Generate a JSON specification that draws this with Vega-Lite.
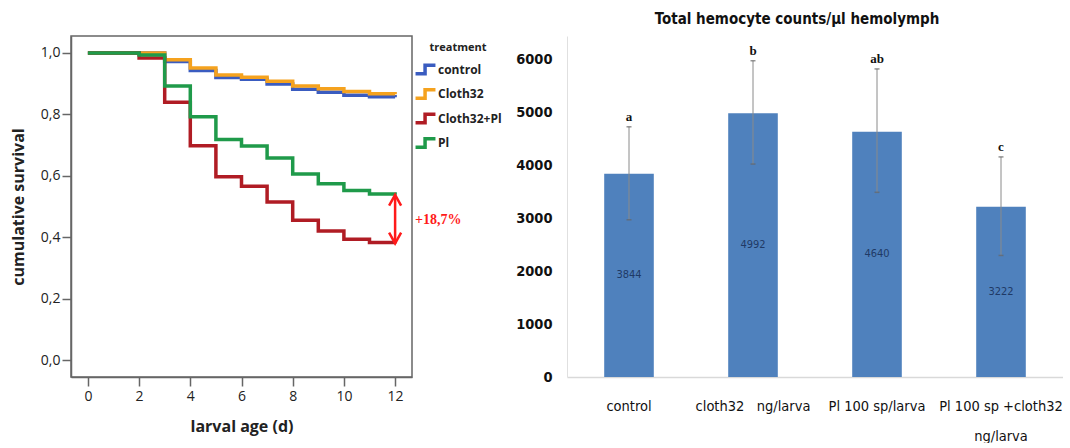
{
  "$schema": "https://vega.github.io/schema/vega-lite/v6.json",
  "padding": {"left": 9, "top": 12, "right": 0, "bottom": 0},
  "background": "white",
  "bounds": "flush",
  "spacing": 155,
  "config": {"view": {"stroke": null}},
  "datasets": {
    "survival": [
      {"day": 0, "surv": 1.0, "treatment": "control"},
      {"day": 1, "surv": 1.0, "treatment": "control"},
      {"day": 2, "surv": 1.0, "treatment": "control"},
      {"day": 3, "surv": 0.972, "treatment": "control"},
      {"day": 4, "surv": 0.943, "treatment": "control"},
      {"day": 5, "surv": 0.92, "treatment": "control"},
      {"day": 6, "surv": 0.914, "treatment": "control"},
      {"day": 7, "surv": 0.899, "treatment": "control"},
      {"day": 8, "surv": 0.882, "treatment": "control"},
      {"day": 9, "surv": 0.872, "treatment": "control"},
      {"day": 10, "surv": 0.862, "treatment": "control"},
      {"day": 11, "surv": 0.857, "treatment": "control"},
      {"day": 12, "surv": 0.856, "treatment": "control"},
      {"day": 0, "surv": 1.0, "treatment": "Cloth32"},
      {"day": 1, "surv": 1.0, "treatment": "Cloth32"},
      {"day": 2, "surv": 1.0, "treatment": "Cloth32"},
      {"day": 3, "surv": 0.978, "treatment": "Cloth32"},
      {"day": 4, "surv": 0.951, "treatment": "Cloth32"},
      {"day": 5, "surv": 0.928, "treatment": "Cloth32"},
      {"day": 6, "surv": 0.921, "treatment": "Cloth32"},
      {"day": 7, "surv": 0.908, "treatment": "Cloth32"},
      {"day": 8, "surv": 0.892, "treatment": "Cloth32"},
      {"day": 9, "surv": 0.883, "treatment": "Cloth32"},
      {"day": 10, "surv": 0.874, "treatment": "Cloth32"},
      {"day": 11, "surv": 0.867, "treatment": "Cloth32"},
      {"day": 12, "surv": 0.865, "treatment": "Cloth32"},
      {"day": 0, "surv": 1.0, "treatment": "Cloth32+Pl"},
      {"day": 1, "surv": 1.0, "treatment": "Cloth32+Pl"},
      {"day": 2, "surv": 0.983, "treatment": "Cloth32+Pl"},
      {"day": 3, "surv": 0.839, "treatment": "Cloth32+Pl"},
      {"day": 4, "surv": 0.698, "treatment": "Cloth32+Pl"},
      {"day": 5, "surv": 0.597, "treatment": "Cloth32+Pl"},
      {"day": 6, "surv": 0.566, "treatment": "Cloth32+Pl"},
      {"day": 7, "surv": 0.515, "treatment": "Cloth32+Pl"},
      {"day": 8, "surv": 0.455, "treatment": "Cloth32+Pl"},
      {"day": 9, "surv": 0.42, "treatment": "Cloth32+Pl"},
      {"day": 10, "surv": 0.393, "treatment": "Cloth32+Pl"},
      {"day": 11, "surv": 0.383, "treatment": "Cloth32+Pl"},
      {"day": 12, "surv": 0.38, "treatment": "Cloth32+Pl"},
      {"day": 0, "surv": 1.0, "treatment": "Pl"},
      {"day": 1, "surv": 1.0, "treatment": "Pl"},
      {"day": 2, "surv": 0.993, "treatment": "Pl"},
      {"day": 3, "surv": 0.892, "treatment": "Pl"},
      {"day": 4, "surv": 0.792, "treatment": "Pl"},
      {"day": 5, "surv": 0.718, "treatment": "Pl"},
      {"day": 6, "surv": 0.697, "treatment": "Pl"},
      {"day": 7, "surv": 0.658, "treatment": "Pl"},
      {"day": 8, "surv": 0.606, "treatment": "Pl"},
      {"day": 9, "surv": 0.574, "treatment": "Pl"},
      {"day": 10, "surv": 0.552, "treatment": "Pl"},
      {"day": 11, "surv": 0.541, "treatment": "Pl"},
      {"day": 12, "surv": 0.538, "treatment": "Pl"}
    ],
    "gap": [
      {"day": 12, "high": 0.538, "low": 0.38, "mid": 0.457, "label": "+18,7%"}
    ],
    "hemocyte": [
      {"group": "control", "value": 3844, "lower": 2975, "upper": 4735, "letter": "a"},
      {"group": "cloth32\u00a0\u00a0 ng/larva", "value": 4992, "lower": 4030, "upper": 5985, "letter": "b"},
      {"group": "Pl 100 sp/larva", "value": 4640, "lower": 3495, "upper": 5830, "letter": "ab"},
      {"group": "Pl 100 sp +cloth32 ng/larva", "value": 3222, "lower": 2300, "upper": 4165, "letter": "c"}
    ]
  },
  "hconcat": [
    {
      "width": 341,
      "height": 341,
      "view": {"stroke": "#666", "strokeWidth": 1.5},
      "layer": [
        {
          "data": {"name": "survival"},
          "mark": {"type": "line", "interpolate": "step-after", "strokeWidth": 3.5},
          "encoding": {
            "x": {
              "field": "day", "type": "quantitative",
              "scale": {"domain": [-0.66, 12.66], "nice": false, "zero": false},
              "axis": {
                "title": "larval age (d)", "values": [0, 2, 4, 6, 8, 10, 12], "grid": false,
                "tickSize": 9, "labelPadding": 3, "labelFont": "Open Sans", "labelFontSize": 14,
                "labelColor": "#222", "titleFont": "Open Sans", "titleFontSize": 16, "titleFontWeight": "bold",
                "titleColor": "#222", "titlePadding": 15, "domainColor": "#666", "tickColor": "#666", "domainWidth": 1.5, "tickWidth": 1.5
              }
            },
            "y": {
              "field": "surv", "type": "quantitative",
              "scale": {"domain": [-0.055, 1.055], "nice": false, "zero": false},
              "axis": {
                "title": "cumulative survival", "values": [0, 0.2, 0.4, 0.6, 0.8, 1.0], "grid": false,
                "labelExpr": "replace(format(datum.value, '.1f'), '.', ',')",
                "tickSize": 9, "labelPadding": 2, "labelFont": "Open Sans", "labelFontSize": 14,
                "labelColor": "#222", "titleFont": "Open Sans", "titleFontSize": 16, "titleFontWeight": "bold",
                "titleColor": "#222", "titlePadding": 14, "domainColor": "#666", "tickColor": "#666", "domainWidth": 1.5, "tickWidth": 1.5
              }
            },
            "color": {
              "field": "treatment", "type": "nominal",
              "scale": {"domain": ["control", "Cloth32", "Cloth32+Pl", "Pl"], "range": ["#3a5cc0", "#f5a21e", "#b01c24", "#1f9a4a"]},
              "legend": {
                "title": "treatment", "orient": "none", "legendX": 344, "legendY": 6,
                "titleFont": "Open Sans", "titleFontSize": 11, "titleFontWeight": "bold", "titleColor": "#222",
                "titleAnchor": "middle", "titlePadding": 6,
                "labelFont": "Open Sans", "labelFontSize": 12, "labelFontWeight": "bold", "labelColor": "#222",
                "labelOffset": 2,
                "symbolType": "M-1.15,0.5L-0.05,0.5L-0.05,-0.5L1.15,-0.5",
                "symbolSize": 300, "symbolStrokeWidth": 3.5, "symbolFillColor": "transparent", "rowPadding": 1.5
              }
            }
          }
        },
        {
          "data": {"name": "gap"},
          "mark": {"type": "rule", "color": "#ff1a1a", "strokeWidth": 2.5},
          "encoding": {
            "x": {"field": "day", "type": "quantitative"},
            "y": {"field": "high", "type": "quantitative"},
            "y2": {"field": "low"}
          }
        },
        {
          "data": {"name": "gap"},
          "mark": {"type": "point", "shape": "M-1,1.8L0,0L1,1.8", "size": 144, "filled": false, "color": "#ff1a1a", "strokeWidth": 2.5, "opacity": 1},
          "encoding": {
            "x": {"field": "day", "type": "quantitative"},
            "y": {"field": "high", "type": "quantitative"}
          }
        },
        {
          "data": {"name": "gap"},
          "mark": {"type": "point", "shape": "M-1,-1.8L0,0L1,-1.8", "size": 144, "filled": false, "color": "#ff1a1a", "strokeWidth": 2.5, "opacity": 1},
          "encoding": {
            "x": {"field": "day", "type": "quantitative"},
            "y": {"field": "low", "type": "quantitative"}
          }
        },
        {
          "data": {"name": "gap"},
          "mark": {"type": "text", "align": "left", "baseline": "middle", "dx": 20, "font": "Liberation Serif", "fontSize": 14, "fontWeight": "bold", "color": "#ff1a1a"},
          "encoding": {
            "x": {"field": "day", "type": "quantitative"},
            "y": {"field": "mid", "type": "quantitative"},
            "text": {"field": "label"}
          }
        }
      ]
    },
    {
      "width": 496,
      "height": 341,
      "title": {
        "text": "Total hemocyte counts/µl hemolymph", "font": "'DejaVu Sans Condensed', sans-serif",
        "fontSize": 15, "fontWeight": "bold", "anchor": "middle", "dx": -18, "offset": 9, "color": "#111"
      },
      "data": {"name": "hemocyte"},
      "resolve": {"scale": {"y": "independent"}},
      "layer": [
        {
          "layer": [
            {
              "mark": {"type": "bar", "color": "#4f81bd"},
              "encoding": {
                "x": {
                  "field": "group", "type": "nominal", "sort": null,
                  "scale": {"paddingInner": 0.6, "paddingOuter": 0.3},
                  "axis": {
                    "title": null, "labelAngle": 0, "ticks": false, "domainColor": "#d9d9d9", "domainWidth": 1.5,
                    "labelPadding": 22, "labelFont": "'DejaVu Sans Condensed', sans-serif",
                    "labelFontSize": 14.5, "labelColor": "#111", "labelLineHeight": 30,
                    "labelExpr": "datum.label == 'Pl 100 sp +cloth32 ng/larva' ? ['Pl 100 sp +cloth32', 'ng/larva'] : datum.label"
                  }
                },
                "y": {
                  "field": "value", "type": "quantitative",
                  "scale": {"domain": [0, 6453], "nice": false},
                  "axis": {
                    "title": null, "values": [0, 1000, 2000, 3000, 4000, 5000, 6000], "format": "d", "grid": false, "ticks": false,
                    "domainColor": "#e0e0e0", "labelPadding": 15,
                    "labelFont": "'DejaVu Sans Condensed', sans-serif",
                    "labelFontSize": 14.5, "labelFontWeight": "bold", "labelColor": "#111"
                  }
                }
              }
            },
            {
              "mark": {"type": "rule", "color": "#8a8a8a", "strokeWidth": 1},
              "encoding": {
                "x": {"field": "group", "type": "nominal", "sort": null},
                "y": {"field": "lower", "type": "quantitative"},
                "y2": {"field": "upper"}
              }
            },
            {
              "mark": {"type": "tick", "color": "#666", "size": 5, "thickness": 1.5},
              "encoding": {
                "x": {"field": "group", "type": "nominal", "sort": null},
                "y": {"field": "lower", "type": "quantitative"}
              }
            },
            {
              "mark": {"type": "tick", "color": "#666", "size": 5, "thickness": 1.5},
              "encoding": {
                "x": {"field": "group", "type": "nominal", "sort": null},
                "y": {"field": "upper", "type": "quantitative"}
              }
            },
            {
              "mark": {"type": "text", "baseline": "bottom", "dy": -3, "font": "Liberation Serif", "fontSize": 13, "fontWeight": "bold", "color": "#111"},
              "encoding": {
                "x": {"field": "group", "type": "nominal", "sort": null},
                "y": {"field": "upper", "type": "quantitative"},
                "text": {"field": "letter"}
              }
            }
          ]
        },
        {
          "mark": {"type": "text", "baseline": "middle", "font": "'DejaVu Sans Condensed', sans-serif", "fontSize": 11, "color": "#1f3a66"},
          "encoding": {
            "x": {"field": "group", "type": "nominal", "sort": null},
            "y": {"field": "value", "type": "quantitative", "scale": {"domain": [0, 12906], "nice": false}, "axis": null},
            "text": {"field": "value", "type": "quantitative", "format": "d"}
          }
        }
      ]
    }
  ]
}
